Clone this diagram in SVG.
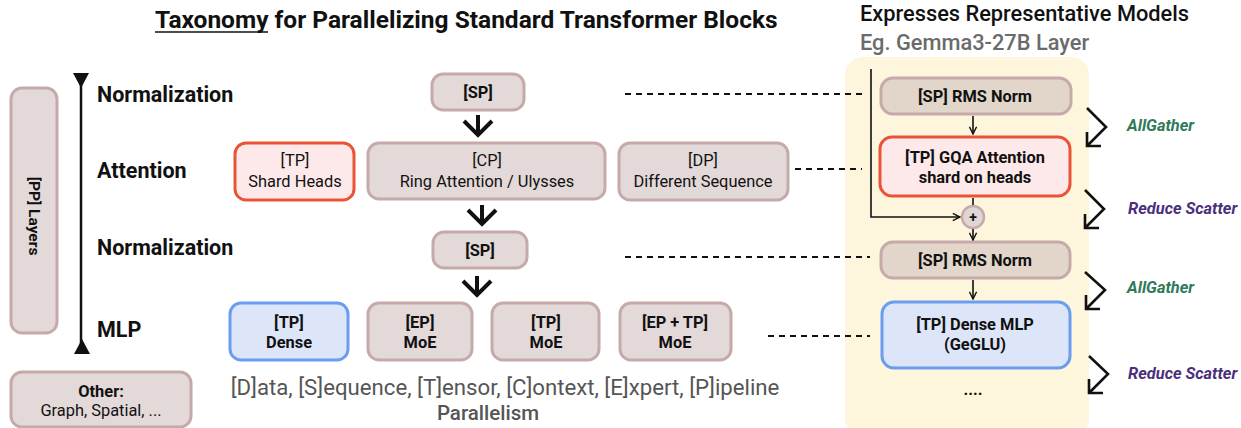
<svg xmlns="http://www.w3.org/2000/svg" width="1241" height="428" viewBox="0 0 1241 428">
<defs>
<style>
.t{font-family:Roboto,"Liberation Sans",sans-serif;fill:#111}
.b{font-weight:700}
.m{font-weight:500}
.box{fill:#e4d9d9;stroke:#c6aaaa;stroke-width:3}
.norm{fill:#e2d5ca;stroke:#c6aaaa;stroke-width:3}
.red{fill:#fde9e9;stroke:#ea5436;stroke-width:3}
.blue{fill:#dde6f8;stroke:#6a9cf0;stroke-width:3}
.lbl{font-size:21.5px;font-weight:700}
.bt{font-size:16.4px}
.c{text-anchor:middle}
.cm{font-size:16.4px;font-weight:700;font-style:italic}
.dash{stroke:#111;stroke-width:2;stroke-dasharray:6 5;fill:none}
.chev{stroke:#111;stroke-width:4;fill:none;stroke-linecap:butt}
.thin{stroke:#111;stroke-width:1.6;fill:none}
.zig{stroke:#111;stroke-width:2.6;fill:none;stroke-linejoin:miter}
</style>
<marker id="oa" viewBox="0 0 10 10" refX="9" refY="5" markerWidth="9" markerHeight="9" orient="auto" markerUnits="userSpaceOnUse">
<path d="M1,1 L9,5 L1,9" fill="none" stroke="#111" stroke-width="1.6"/>
</marker>
</defs>

<g id="title">
<text class="t b" x="155" y="28" font-size="24.5">Taxonomy for Parallelizing Standard Transformer Blocks</text>
<line x1="155" y1="32" x2="268" y2="32" stroke="#111" stroke-width="1.6"/>
</g>

<g id="rightTitle">
<text class="t m" x="860" y="21" font-size="21.8">Expresses Representative Models</text>
<text class="t m" x="860" y="50" font-size="21.8" style="fill:#6b6b6b">Eg. Gemma3-27B Layer</text>
</g>

<g id="panel">
<rect x="845" y="57" width="244" height="380" rx="18" fill="#fef6dc"/>
</g>

<g id="pp">
<rect class="box" x="11" y="88" width="46" height="245" rx="11"/>
<text class="t b" font-size="15.5" transform="translate(34,216) rotate(90)" text-anchor="middle" dy="5.5">[PP]  Layers</text>
</g>

<g id="axis">
<line x1="81" y1="80" x2="81" y2="346" stroke="#111" stroke-width="2.5"/>
<path d="M73,73 L89,73 L81,88 Z" fill="#111"/>
<path d="M74,354 L90,354 L82,339 Z" fill="#111"/>
</g>

<g id="rowLabels">
<text class="t lbl" x="97" y="102">Normalization</text>
<text class="t lbl" x="97" y="178">Attention</text>
<text class="t lbl" x="97" y="255">Normalization</text>
<text class="t lbl" x="97" y="337">MLP</text>
</g>

<g id="other">
<rect class="box" x="11" y="372" width="180" height="55" rx="11"/>
<text class="t b c bt" x="101" y="397">Other:</text>
<text class="t c bt" x="101" y="416">Graph, Spatial, ...</text>
</g>

<g id="sp1">
<rect class="box" x="432" y="74" width="92" height="36" rx="11"/>
<text class="t b c bt" x="478" y="98">[SP]</text>
</g>

<g id="tpShard">
<rect class="red" x="235" y="143" width="119" height="57" rx="11"/>
<text class="t c bt" x="295" y="166">[TP]</text>
<text class="t c bt" x="295" y="187">Shard Heads</text>
</g>

<g id="cp">
<rect class="box" x="368" y="143" width="237" height="56" rx="11"/>
<text class="t c bt" x="487" y="166">[CP]</text>
<text class="t c bt" x="487" y="187">Ring Attention / Ulysses</text>
</g>

<g id="dp">
<rect class="box" x="619" y="143" width="169" height="57" rx="11"/>
<text class="t c bt" x="703" y="166">[DP]</text>
<text class="t c bt" x="703" y="187">Different Sequence</text>
</g>

<g id="sp2">
<rect class="box" x="433" y="232" width="94" height="36" rx="11"/>
<text class="t b c bt" x="480" y="256">[SP]</text>
</g>

<g id="tpDense">
<rect class="blue" x="230" y="303" width="118" height="57" rx="11"/>
<text class="t b c bt" x="289" y="328">[TP]</text>
<text class="t b c bt" x="289" y="348">Dense</text>
</g>

<g id="epMoe">
<rect class="box" x="368" y="303" width="104" height="57" rx="11"/>
<text class="t b c bt" x="420" y="328">[EP]</text>
<text class="t b c bt" x="420" y="348">MoE</text>
</g>

<g id="tpMoe">
<rect class="box" x="492" y="303" width="107" height="57" rx="11"/>
<text class="t b c bt" x="546" y="328">[TP]</text>
<text class="t b c bt" x="546" y="348">MoE</text>
</g>

<g id="eptpMoe">
<rect class="box" x="620" y="303" width="111" height="57" rx="11"/>
<text class="t b c bt" x="675" y="328">[EP + TP]</text>
<text class="t b c bt" x="675" y="348">MoE</text>
</g>

<g id="legend">
<text class="t c" x="505" y="395" font-size="22.2" style="fill:#555">[D]ata, [S]equence, [T]ensor, [C]ontext, [E]xpert, [P]ipeline</text>
<text class="t m c" x="488" y="420" font-size="20.5" style="fill:#555">Parallelism</text>
</g>

<g id="gRms1">
<rect class="norm" x="881" y="78" width="190" height="36" rx="12"/>
<text class="t b c bt" x="975" y="102">[SP] RMS Norm</text>
</g>

<g id="gAttn">
<rect class="red" x="880" y="137" width="190" height="59" rx="12"/>
<text class="t b c bt" x="975" y="163">[TP] GQA Attention</text>
<text class="t b c bt" x="975" y="183">shard on heads</text>
</g>

<g id="gPlus">
<circle cx="973" cy="217" r="11" fill="#e2d5d5" stroke="#c6aaaa" stroke-width="2.5"/>
<text class="t b c" x="973" y="222" font-size="14">+</text>
</g>

<g id="gRms2">
<rect class="norm" x="881" y="242" width="189" height="36" rx="12"/>
<text class="t b c bt" x="975" y="266">[SP] RMS Norm</text>
</g>

<g id="gMlp">
<rect class="blue" x="882" y="302" width="188" height="66" rx="12"/>
<text class="t b c bt" x="975" y="330">[TP] Dense MLP</text>
<text class="t b c bt" x="975" y="350">(GeGLU)</text>
</g>

<g id="gDots">
<text class="t b c bt" x="973" y="395">....</text>
</g>

<g id="comms">
<text class="t cm" x="1127" y="131" style="fill:#2f7a57">AllGather</text>
<text class="t cm" x="1128" y="214" style="fill:#4b2f7c">Reduce Scatter</text>
<text class="t cm" x="1127" y="293" style="fill:#2f7a57">AllGather</text>
<text class="t cm" x="1128" y="379" style="fill:#4b2f7c">Reduce Scatter</text>
</g>

<g id="connectors">
<path class="chev" d="M478,115 V134 M464,121 L478,135 L492,121"/>
<path class="chev" d="M482,205 V223 M468,210 L482,224 L496,210"/>
<path class="chev" d="M477,276 V295 M463,281 L477,295 L491,281"/>
<line class="dash" x1="625" y1="94" x2="862" y2="94"/>
<line class="dash" x1="795" y1="169" x2="862" y2="169"/>
<line class="dash" x1="625" y1="257" x2="870" y2="257"/>
<line class="dash" x1="768" y1="336" x2="870" y2="336"/>
<path class="thin" d="M871,69 V217 H960" marker-end="url(#oa)"/>
<line class="thin" x1="973" y1="116" x2="973" y2="134" marker-end="url(#oa)"/>
<line class="thin" x1="973" y1="198" x2="973" y2="205"/>
<line class="thin" x1="973" y1="229" x2="973" y2="240" marker-end="url(#oa)"/>
<line class="thin" x1="973" y1="280" x2="973" y2="299" marker-end="url(#oa)"/>
<path class="zig" d="M1087,108 L1106,127 L1087,146 M1087,132 V146 H1101"/>
<path class="zig" d="M1085,190 L1104,209 L1085,228 M1085,214 V228 H1099"/>
<path class="zig" d="M1085,272 L1105,290 L1086,309 M1086,295 V309 H1100"/>
<path class="zig" d="M1089,356 L1108,374 L1089,393 M1089,379 V393 H1103"/>
</g>
</svg>
